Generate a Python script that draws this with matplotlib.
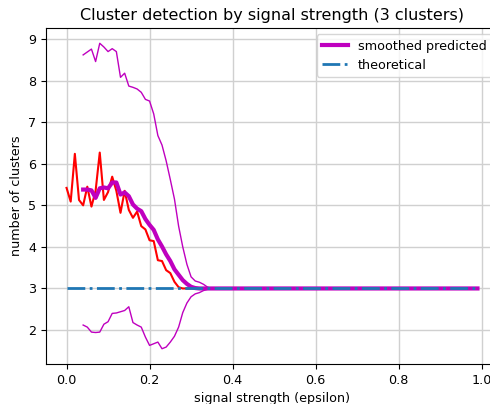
import numpy as np
import matplotlib
matplotlib.use("Agg")
import matplotlib.pyplot as plt

# signal strength grid (epsilon)
epsilon = np.round(np.arange(0, 1.0, 0.01), 2)
n = len(epsilon)

# raw predicted number of clusters (red)
predicted = [5.42, 5.09, 6.24, 5.13, 5.00, 5.45, 4.97, 5.35, 6.27, 5.13,
             5.32, 5.69, 5.35, 4.82, 5.35, 4.89, 4.70, 4.85, 4.50, 4.42,
             4.16, 4.14, 3.68, 3.66, 3.44, 3.37, 3.16, 3.03]
predicted = predicted + [3.0] * (n - len(predicted))

# smoothed predicted (starts at epsilon = 0.04)
smoothed = [5.38, 5.38, 5.36, 5.18, 5.41, 5.43, 5.41, 5.55, 5.55, 5.26,
            5.31, 5.22, 5.02, 4.92, 4.86, 4.67, 4.53, 4.41, 4.18, 4.01,
            3.82, 3.66, 3.46, 3.33, 3.20, 3.11, 3.04, 3.01]
smoothed = [np.nan] * 4 + smoothed
smoothed = smoothed + [3.0] * (n - len(smoothed))

# upper band (starts at epsilon = 0.04)
upper = [8.62, 8.69, 8.76, 8.46, 8.90, 8.81, 8.70, 8.77, 8.70, 8.08,
         8.18, 7.87, 7.84, 7.80, 7.72, 7.55, 7.51, 7.20, 6.68, 6.45,
         6.07, 5.62, 5.15, 4.50, 4.00, 3.58, 3.28, 3.18, 3.15, 3.10,
         3.03]
upper = [np.nan] * 4 + upper
upper = upper + [3.0] * (n - len(upper))

# lower band (starts at epsilon = 0.04)
lower = [2.12, 2.07, 1.95, 1.94, 1.95, 2.14, 2.20, 2.40, 2.41, 2.44,
         2.47, 2.56, 2.18, 2.12, 2.07, 1.83, 1.63, 1.67, 1.71, 1.55,
         1.59, 1.71, 1.85, 2.07, 2.42, 2.65, 2.80, 2.87, 2.90, 2.95,
         2.98]
lower = [np.nan] * 4 + lower
lower = lower + [3.0] * (n - len(lower))

theoretical = [3.0] * n

plt.rcParams['font.family'] = ['DejaVu Sans']
plt.rcParams['font.size'] = 9.2

fig = plt.figure(figsize=(4.9, 4.04), dpi=100)
ax = fig.add_axes([46 / 490, 1 - 364 / 404, (498 - 46) / 490, (364 - 28) / 404])

ax.plot(epsilon, predicted, color='red', linewidth=1.5)
ax.plot(epsilon, upper, color='m', linewidth=1.0)
ax.plot(epsilon, lower, color='m', linewidth=1.0)
ax.plot(epsilon, smoothed, color='m', linewidth=3, label='smoothed predicted')
ax.plot(epsilon, theoretical, color='#1f77b4', linestyle='-.', linewidth=2,
        label='theoretical')

ax.grid(True, color='#d0d0d0', linewidth=1)
ax.set_axisbelow(True)
ax.set_title('Cluster detection by signal strength (3 clusters)', fontsize=11.5)
ax.set_xlabel('signal strength (epsilon)')
ax.set_ylabel('number of clusters')
ax.legend(loc='upper right')

fig.savefig('out.png', dpi=100)
